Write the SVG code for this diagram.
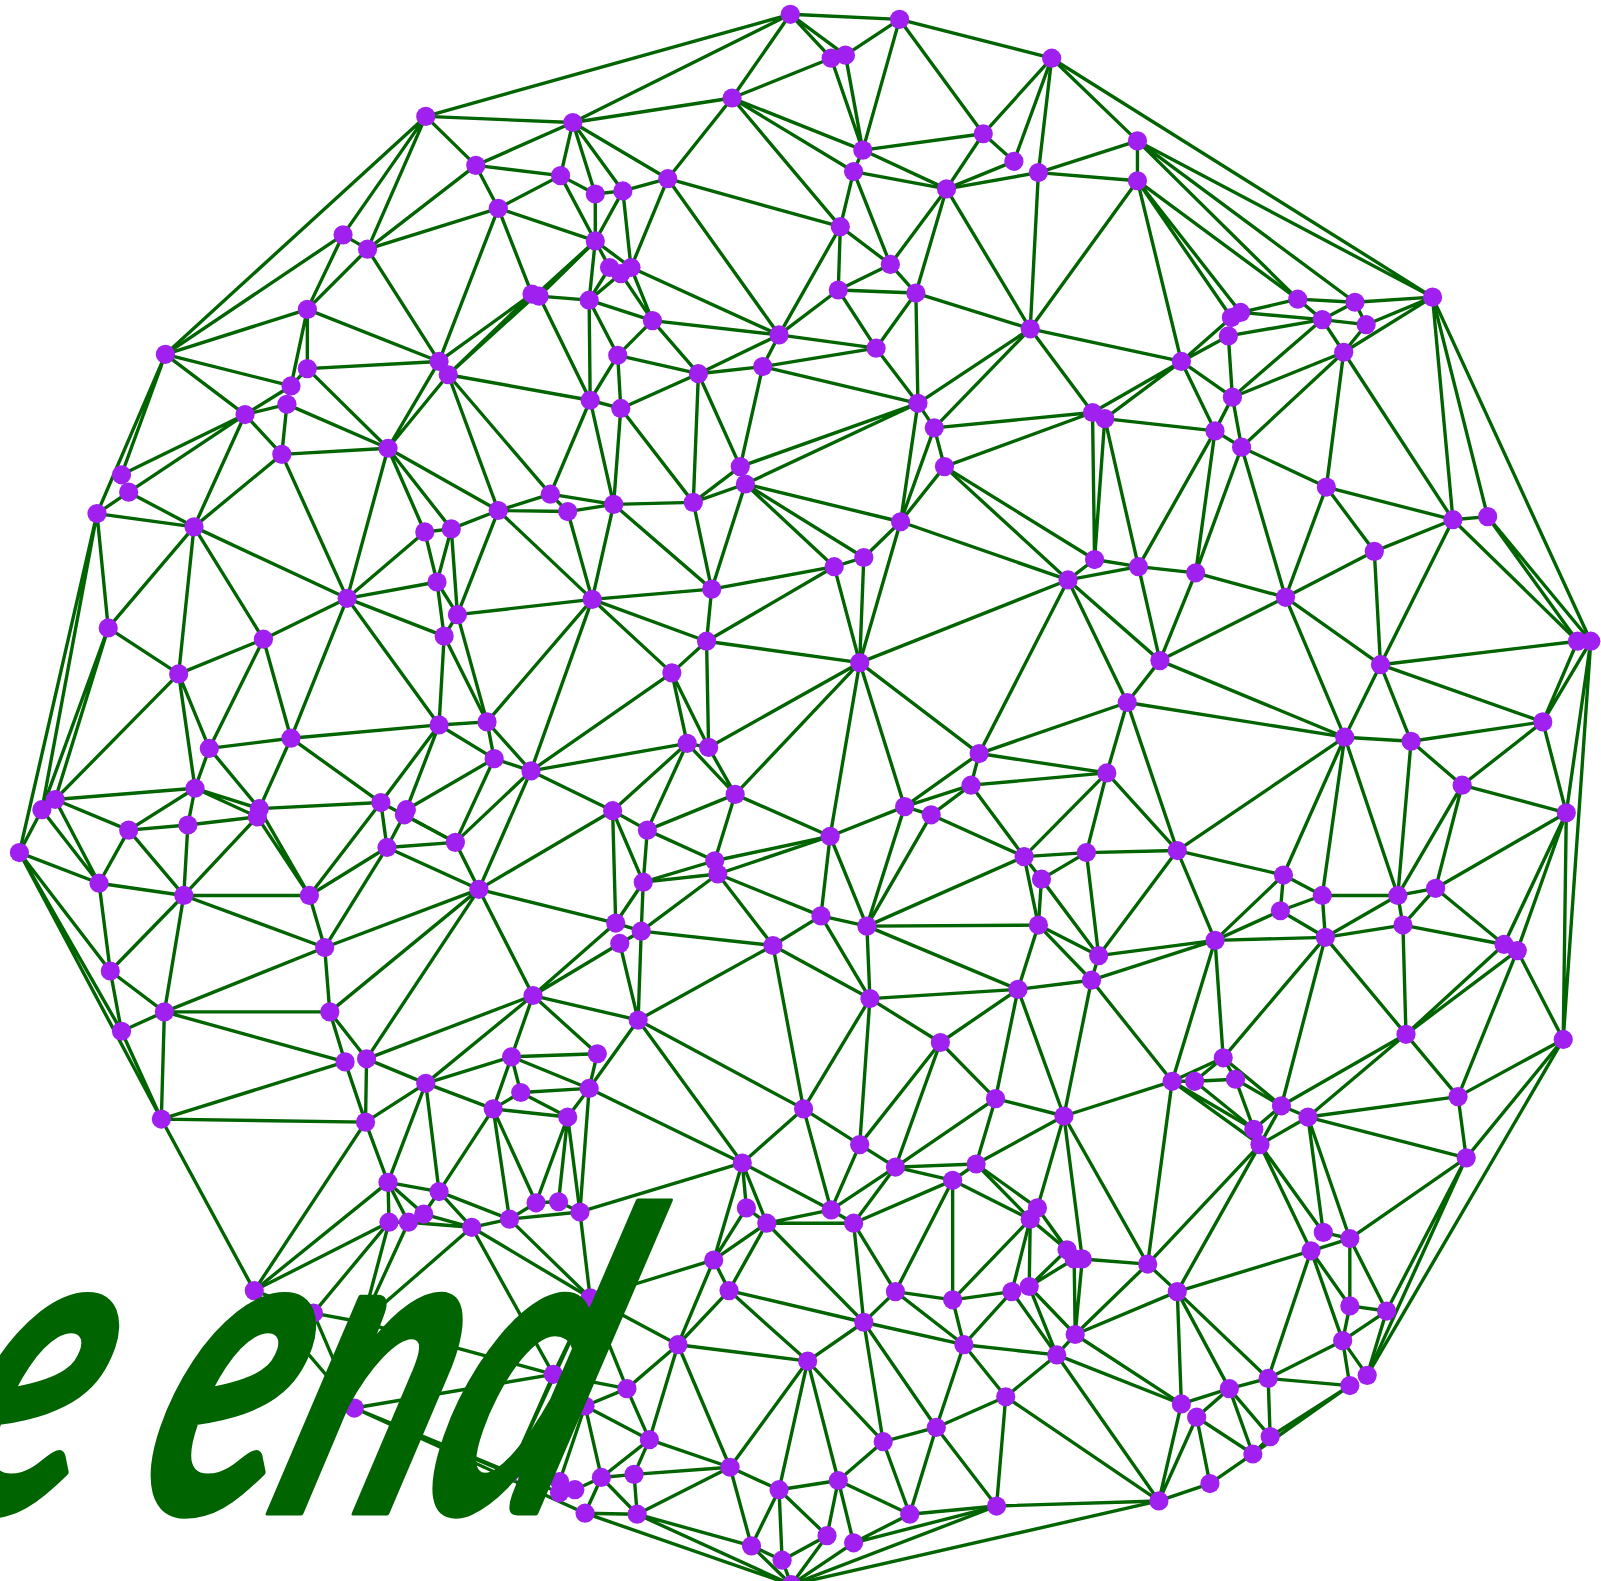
<svg xmlns="http://www.w3.org/2000/svg" width="1601" height="1581" viewBox="0 0 1601 1581">
<style>
#connectors path{fill:none;stroke:#006400;stroke-width:3.3;stroke-linejoin:round}
circle{fill:#a020f0;r:9.4px}
text{fill:#006400;stroke:#006400;stroke-width:1.2;stroke-linejoin:round;font-family:Lato,"Liberation Sans",sans-serif;font-size:100px;font-weight:700;font-style:italic}
</style>
<rect width="1601" height="1581" fill="#fff"/>
<g transform="scale(1.02105)">
<g id="connectors">
<path d="M774 14 881 19 774 14 814 57 774 14 828 54 774 14 717 96 774 14 561 120 774 14 417 114"/>
<path d="M881 19 828 54 881 19 845 147 881 19 1030 57 881 19 963 131"/>
<path d="M814 57 717 96 814 57 845 147M828 54 845 147"/>
<path d="M717 96 561 120 717 96 654 175 717 96 845 147 717 96 836 168 717 96 823 222"/>
<path d="M561 120 417 114 561 120 466 162 561 120 549 172 561 120 583 190 561 120 610 187 561 120 654 175"/>
<path d="M417 114 466 162 417 114 162 347 417 114 336 230 417 114 360 244"/>
<path d="M466 162 549 172 466 162 488 204 466 162 360 244"/>
<path d="M488 204 360 244 488 204 549 172 488 204 583 236 488 204 430 354 488 204 521 288"/>
<path d="M336 230 360 244 336 230 162 347 336 230 301 303M360 244 301 303 360 244 430 354"/>
<path d="M301 303 162 347 301 303 301 361 301 303 285 378 301 303 430 354"/>
<path d="M162 347 285 378 162 347 240 406 162 347 119 465 162 347 95 503"/>
<path d="M301 361 430 354 301 361 380 439 301 361 285 378M285 378 240 406"/>
<path d="M281 396 240 406 281 396 380 439 281 396 276 445"/>
<path d="M240 406 276 445 240 406 119 465 240 406 126 482 240 406 190 516"/>
<path d="M276 445 380 439 276 445 190 516 276 445 340 586"/>
<path d="M380 439 430 354 380 439 439 367 380 439 340 586 380 439 416 521 380 439 442 518 380 439 488 500"/>
<path d="M430 354 439 367 430 354 521 288"/>
<path d="M439 367 578 392 439 367 539 484 439 367 488 500 439 367 583 236 439 367 521 288"/>
<path d="M528 290 583 236 528 290 577 294 528 290 578 392"/>
<path d="M126 482 95 503 126 482 190 516"/>
<path d="M95 503 190 516 95 503 106 615 95 503 41 793 95 503 19 835"/>
<path d="M190 516 106 615 190 516 175 660 190 516 258 626 190 516 340 586"/>
<path d="M106 615 175 660 106 615 41 793 106 615 54 783"/>
<path d="M175 660 258 626 175 660 54 783 175 660 205 733 175 660 191 772"/>
<path d="M258 626 340 586 258 626 205 733 258 626 285 723"/>
<path d="M340 586 416 521 340 586 428 570 340 586 435 623 340 586 285 723 340 586 430 710"/>
<path d="M416 521 442 518 416 521 428 570M442 518 428 570 442 518 448 602 442 518 488 500"/>
<path d="M428 570 448 602 428 570 435 623M448 602 435 623 448 602 580 587 448 602 488 500 448 602 477 707"/>
<path d="M435 623 477 707 435 623 430 710"/>
<path d="M430 710 477 707 430 710 484 743 430 710 373 786 430 710 398 793 430 710 285 723"/>
<path d="M477 707 484 743 477 707 520 755 477 707 580 587"/>
<path d="M484 743 520 755 484 743 398 793 484 743 446 825"/>
<path d="M520 755 446 825 520 755 469 871 520 755 580 587 520 755 658 659 520 755 673 728 520 755 600 794"/>
<path d="M373 786 446 825 373 786 379 830 373 786 303 877 373 786 254 792 373 786 285 723"/>
<path d="M396 798 379 830 396 798 446 825"/>
<path d="M379 830 446 825 379 830 303 877 379 830 469 871 379 830 318 928M446 825 469 871"/>
<path d="M469 871 318 928 469 871 323 991 469 871 359 1037 469 871 600 794 469 871 603 904 469 871 522 975"/>
<path d="M285 723 205 733 285 723 254 792M205 733 191 772 205 733 254 792"/>
<path d="M191 772 54 783 191 772 126 813 191 772 184 808 191 772 254 792 191 772 252 800"/>
<path d="M54 783 126 813 54 783 97 865M41 793 97 865 41 793 19 835"/>
<path d="M126 813 184 808 126 813 97 865 126 813 180 877M184 808 252 800 184 808 180 877"/>
<path d="M252 800 180 877 252 800 303 877M254 792 303 877"/>
<path d="M180 877 303 877 180 877 318 928 180 877 97 865 180 877 108 951 180 877 161 991M303 877 318 928"/>
<path d="M19 835 97 865 19 835 108 951 19 835 119 1010 19 835 158 1096M97 865 108 951"/>
<path d="M108 951 161 991 108 951 119 1010"/>
<path d="M161 991 119 1010 161 991 323 991 161 991 318 928 161 991 158 1096 161 991 338 1040M119 1010 158 1096"/>
<path d="M318 928 323 991M323 991 338 1040 323 991 359 1037"/>
<path d="M522 975 359 1037 522 975 417 1061 522 975 501 1035 522 975 585 1032 522 975 603 904 522 975 607 924 522 975 625 999"/>
<path d="M158 1096 338 1040 158 1096 358 1099 158 1096 249 1264M338 1040 358 1099"/>
<path d="M359 1037 358 1099 359 1037 417 1061"/>
<path d="M417 1061 358 1099 417 1061 501 1035 417 1061 483 1086 417 1061 380 1158 417 1061 430 1167"/>
<path d="M501 1035 585 1032 501 1035 577 1066 501 1035 510 1070 501 1035 483 1086M585 1032 577 1066"/>
<path d="M510 1070 577 1066 510 1070 483 1086 510 1070 556 1094"/>
<path d="M483 1086 556 1094 483 1086 430 1167 483 1086 525 1178 483 1086 499 1194"/>
<path d="M556 1094 577 1066 556 1094 525 1178 556 1094 547 1177 556 1094 568 1187"/>
<path d="M577 1066 568 1187 577 1066 625 999 577 1066 727 1139"/>
<path d="M568 1187 547 1177 568 1187 499 1194 568 1187 578 1271 568 1187 727 1139"/>
<path d="M525 1178 547 1177 525 1178 499 1194"/>
<path d="M499 1194 462 1202 499 1194 578 1271 499 1194 430 1167"/>
<path d="M462 1202 430 1167 462 1202 415 1189 462 1202 400 1197 462 1202 578 1271 462 1202 542 1346 462 1202 355 1295"/>
<path d="M430 1167 380 1158 430 1167 415 1189M415 1189 380 1158"/>
<path d="M380 1158 358 1099 380 1158 381 1197 380 1158 400 1197 380 1158 249 1264"/>
<path d="M381 1197 400 1197 381 1197 249 1264 381 1197 307 1286 381 1197 355 1295M400 1197 355 1295"/>
<path d="M358 1099 249 1264M249 1264 307 1286 249 1264 347 1379M307 1286 355 1295 307 1286 347 1379"/>
<path d="M355 1295 542 1346M347 1379 542 1346 347 1379 499 1443 347 1379 548 1462 347 1379 573 1482"/>
<path d="M578 1271 699 1234 578 1271 664 1317 578 1271 542 1346 578 1271 614 1360 578 1271 573 1377 578 1271 499 1443"/>
<path d="M542 1346 614 1360 542 1346 499 1443"/>
<path d="M573 1377 614 1360 573 1377 636 1410 573 1377 589 1447 573 1377 548 1451"/>
<path d="M614 1360 636 1410 614 1360 664 1317"/>
<path d="M664 1317 636 1410 664 1317 715 1437 664 1317 791 1333 664 1317 699 1234 664 1317 714 1264"/>
<path d="M636 1410 589 1447 636 1410 621 1444 636 1410 715 1437"/>
<path d="M589 1447 621 1444 589 1447 563 1459 589 1447 573 1482 589 1447 624 1483"/>
<path d="M621 1444 715 1437 621 1444 624 1483"/>
<path d="M624 1483 715 1437 624 1483 736 1514 624 1483 775 1552 624 1483 573 1482M573 1482 775 1552"/>
<path d="M715 1437 736 1514 715 1437 763 1459 715 1437 791 1333"/>
<path d="M736 1514 775 1552 736 1514 766 1528 736 1514 763 1459"/>
<path d="M763 1459 791 1333 763 1459 766 1528 763 1459 810 1504 763 1459 821 1450"/>
<path d="M766 1528 775 1552 766 1528 810 1504M810 1504 775 1552 810 1504 821 1450"/>
<path d="M836 1511 775 1552 836 1511 821 1450 836 1511 891 1483 836 1511 976 1475"/>
<path d="M976 1475 775 1552 976 1475 891 1483 976 1475 1135 1470 976 1475 985 1368 976 1475 917 1398"/>
<path d="M1135 1470 775 1552 1135 1470 985 1368 1135 1470 1035 1327 1135 1470 1157 1375 1135 1470 1172 1388 1135 1470 1185 1453"/>
<path d="M891 1483 821 1450 891 1483 865 1412 891 1483 917 1398"/>
<path d="M821 1450 791 1333 821 1450 865 1412"/>
<path d="M791 1333 714 1264 791 1333 846 1295 791 1333 865 1412"/>
<path d="M865 1412 846 1295 865 1412 917 1398"/>
<path d="M917 1398 846 1295 917 1398 944 1317 917 1398 985 1368"/>
<path d="M846 1295 714 1264 846 1295 751 1198 846 1295 836 1198 846 1295 877 1265 846 1295 944 1317"/>
<path d="M714 1264 699 1234 714 1264 751 1198"/>
<path d="M699 1234 727 1139 699 1234 731 1183 699 1234 751 1198"/>
<path d="M727 1139 731 1183 727 1139 751 1198 727 1139 814 1185 727 1139 625 999 727 1139 787 1086M731 1183 751 1198"/>
<path d="M751 1198 814 1185 751 1198 836 1198"/>
<path d="M814 1185 836 1198 814 1185 787 1086 814 1185 842 1121 814 1185 877 1143"/>
<path d="M787 1086 842 1121 787 1086 625 999 787 1086 757 926 787 1086 852 978"/>
<path d="M842 1121 877 1143 842 1121 852 978 842 1121 921 1021"/>
<path d="M877 1143 921 1021 877 1143 975 1076 877 1143 956 1140 877 1143 933 1156 877 1143 836 1198"/>
<path d="M836 1198 877 1265 836 1198 933 1156"/>
<path d="M877 1265 933 1156 877 1265 933 1273 877 1265 944 1317"/>
<path d="M933 1156 956 1140 933 1156 933 1273 933 1156 1009 1194"/>
<path d="M933 1273 991 1265 933 1273 1009 1194 933 1273 944 1317"/>
<path d="M944 1317 991 1265 944 1317 1035 1327 944 1317 985 1368"/>
<path d="M991 1265 1008 1260 991 1265 1009 1194 991 1265 1035 1327"/>
<path d="M1008 1260 1009 1194 1008 1260 1053 1307 1008 1260 1035 1327 1008 1260 1045 1224 1008 1260 1052 1233"/>
<path d="M1009 1194 1045 1224 1009 1194 1016 1183 1009 1194 956 1140"/>
<path d="M1016 1183 956 1140 1016 1183 1045 1224 1016 1183 1052 1233 1016 1183 1042 1093"/>
<path d="M1035 1327 1053 1307 1035 1327 985 1368 1035 1327 1157 1375"/>
<path d="M1053 1307 1052 1233 1053 1307 1060 1233 1053 1307 1124 1238 1053 1307 1153 1265 1053 1307 1157 1375"/>
<path d="M1060 1233 1124 1238 1060 1233 1042 1093"/>
<path d="M956 1140 975 1076 956 1140 1042 1093"/>
<path d="M975 1076 1042 1093 975 1076 921 1021 975 1076 997 969"/>
<path d="M1042 1093 997 969 1042 1093 1069 960 1042 1093 1148 1059 1042 1093 1124 1238"/>
<path d="M1124 1238 1148 1059 1124 1238 1234 1121 1124 1238 1153 1265"/>
<path d="M1153 1265 1234 1121 1153 1265 1284 1225 1153 1265 1157 1375 1153 1265 1204 1360 1153 1265 1242 1350"/>
<path d="M1148 1059 1170 1059 1148 1059 1198 1036 1148 1059 1228 1106 1148 1059 1234 1121 1148 1059 1190 921 1148 1059 1069 960"/>
<path d="M1170 1059 1198 1036 1170 1059 1210 1057 1170 1059 1228 1106"/>
<path d="M1198 1036 1210 1057 1198 1036 1255 1083 1198 1036 1190 921 1198 1036 1298 918"/>
<path d="M1210 1057 1255 1083 1210 1057 1228 1106"/>
<path d="M1255 1083 1281 1094 1255 1083 1228 1106 1255 1083 1234 1121 1255 1083 1377 1013 1255 1083 1298 918"/>
<path d="M1281 1094 1377 1013 1281 1094 1234 1121 1281 1094 1428 1074 1281 1094 1436 1134 1281 1094 1296 1207 1281 1094 1322 1213"/>
<path d="M1428 1074 1377 1013 1428 1074 1531 1018 1428 1074 1436 1134 1428 1074 1486 931"/>
<path d="M1436 1134 1531 1018 1436 1134 1322 1213 1436 1134 1339 1347 1436 1134 1358 1284"/>
<path d="M1531 1018 1339 1347 1531 1018 1486 931 1531 1018 1534 796 1531 1018 1558 628"/>
<path d="M1234 1121 1296 1207 1234 1121 1284 1225M1296 1207 1322 1213"/>
<path d="M1322 1213 1284 1225 1322 1213 1322 1279 1322 1213 1358 1284"/>
<path d="M1284 1225 1242 1350 1284 1225 1315 1313 1284 1225 1322 1279"/>
<path d="M1322 1279 1358 1284 1322 1279 1315 1313M1358 1284 1315 1313 1358 1284 1339 1347"/>
<path d="M1315 1313 1339 1347 1315 1313 1322 1357 1315 1313 1242 1350"/>
<path d="M1322 1357 1242 1350 1322 1357 1244 1407 1322 1357 1227 1424"/>
<path d="M1242 1350 1204 1360 1242 1350 1244 1407"/>
<path d="M1204 1360 1157 1375 1204 1360 1172 1388 1204 1360 1244 1407 1204 1360 1227 1424"/>
<path d="M1172 1388 1227 1424 1172 1388 1185 1453M1227 1424 1185 1453 1227 1424 1244 1407"/>
<path d="M580 587 697 577 580 587 692 628 580 587 658 659 580 587 556 501 580 587 601 494 580 587 488 500"/>
<path d="M697 577 817 555 697 577 692 628 697 577 679 492 697 577 730 474 697 577 601 494"/>
<path d="M817 555 846 546 817 555 692 628 817 555 842 649 817 555 730 474"/>
<path d="M846 546 882 511 846 546 842 649 846 546 730 474"/>
<path d="M882 511 842 649 882 511 1046 568 882 511 730 474 882 511 899 395 882 511 915 419 882 511 925 457"/>
<path d="M1046 568 842 649 1046 568 959 738 1046 568 925 457 1046 568 1072 548 1046 568 1115 555 1046 568 1136 647 1046 568 1104 688"/>
<path d="M692 628 842 649 692 628 658 659 692 628 694 732"/>
<path d="M658 659 673 728 658 659 694 732"/>
<path d="M842 649 694 732 842 649 720 778 842 649 813 819 842 649 886 790 842 649 959 738"/>
<path d="M673 728 694 732 673 728 720 778 673 728 600 794 673 728 634 813M694 732 720 778"/>
<path d="M720 778 634 813 720 778 700 843 720 778 813 819"/>
<path d="M600 794 634 813 600 794 630 864 600 794 603 904"/>
<path d="M634 813 630 864 634 813 700 843"/>
<path d="M700 843 813 819 700 843 703 856 700 843 630 864"/>
<path d="M703 856 813 819 703 856 630 864 703 856 628 912 703 856 757 926 703 856 804 897"/>
<path d="M630 864 603 904 630 864 628 912M603 904 628 912"/>
<path d="M628 912 757 926 628 912 625 999 628 912 607 924M607 924 625 999M625 999 757 926"/>
<path d="M757 926 804 897 757 926 852 978"/>
<path d="M804 897 849 907 804 897 813 819 804 897 852 978"/>
<path d="M849 907 813 819 849 907 886 790 849 907 912 798 849 907 1003 839 849 907 1017 906 849 907 997 969 849 907 852 978"/>
<path d="M813 819 886 790M886 790 959 738 886 790 951 769 886 790 912 798"/>
<path d="M951 769 912 798 951 769 1003 839 951 769 1084 757 951 769 959 738M912 798 1003 839"/>
<path d="M959 738 1084 757 959 738 1104 688"/>
<path d="M1003 839 1064 835 1003 839 1020 861 1003 839 1017 906 1003 839 1084 757"/>
<path d="M1020 861 1064 835 1020 861 1076 936 1020 861 1017 906"/>
<path d="M1017 906 1076 936 1017 906 997 969 1017 906 1069 960"/>
<path d="M997 969 852 978 997 969 1069 960 997 969 921 1021M852 978 921 1021"/>
<path d="M1084 757 1064 835 1084 757 1153 833 1084 757 1104 688"/>
<path d="M1064 835 1153 833 1064 835 1076 936"/>
<path d="M1153 833 1104 688 1153 833 1257 857 1153 833 1190 921 1153 833 1076 936 1153 833 1317 722"/>
<path d="M1076 936 1190 921 1076 936 1069 960M1069 960 1190 921"/>
<path d="M1104 688 1136 647 1104 688 1317 722"/>
<path d="M1136 647 1115 555 1136 647 1171 561 1136 647 1259 585 1136 647 1317 722"/>
<path d="M1115 555 1072 548 1115 555 1171 561 1115 555 1082 410 1115 555 1190 422"/>
<path d="M1171 561 1190 422 1171 561 1216 438 1171 561 1259 585"/>
<path d="M1072 548 925 457 1072 548 1070 404 1072 548 1082 410"/>
<path d="M1259 585 1216 438 1259 585 1299 477 1259 585 1346 540 1259 585 1352 651 1259 585 1317 722"/>
<path d="M1346 540 1299 477 1346 540 1423 509 1346 540 1352 651"/>
<path d="M1423 509 1299 477 1423 509 1316 345 1423 509 1352 651 1423 509 1545 628 1423 509 1403 291 1423 509 1457 506"/>
<path d="M1457 506 1403 291 1457 506 1545 628 1457 506 1558 628"/>
<path d="M1403 291 1558 628 1403 291 1327 296 1403 291 1338 318 1403 291 1316 345 1403 291 1030 57 1403 291 1114 138"/>
<path d="M1352 651 1317 722 1352 651 1511 707 1352 651 1545 628 1352 651 1382 726"/>
<path d="M1317 722 1382 726 1317 722 1257 857 1317 722 1295 877 1317 722 1369 877"/>
<path d="M1382 726 1511 707 1382 726 1432 769 1382 726 1369 877"/>
<path d="M1511 707 1545 628 1511 707 1558 628 1511 707 1432 769 1511 707 1534 796"/>
<path d="M1432 769 1534 796 1432 769 1369 877 1432 769 1406 870"/>
<path d="M1534 796 1406 870 1534 796 1558 628 1534 796 1473 925 1534 796 1486 931"/>
<path d="M1257 857 1254 892 1257 857 1295 877 1257 857 1190 921"/>
<path d="M1254 892 1295 877 1254 892 1298 918 1254 892 1190 921"/>
<path d="M1295 877 1369 877 1295 877 1298 918"/>
<path d="M1369 877 1406 870 1369 877 1374 906 1369 877 1298 918"/>
<path d="M1406 870 1374 906 1406 870 1473 925"/>
<path d="M1298 918 1374 906 1298 918 1190 921 1298 918 1377 1013"/>
<path d="M1374 906 1473 925 1374 906 1377 1013M1473 925 1377 1013M1486 931 1377 1013"/>
<path d="M549 172 583 190 549 172 583 236M583 190 610 187 583 190 583 236"/>
<path d="M610 187 654 175 610 187 583 236 610 187 618 262"/>
<path d="M654 175 618 262 654 175 823 222 654 175 763 328"/>
<path d="M583 236 577 294 583 236 597 262 583 236 618 262 583 236 528 290"/>
<path d="M597 262 577 294M608 268 577 294 608 268 639 314M618 262 639 314 618 262 763 328"/>
<path d="M577 294 639 314 577 294 605 348 577 294 578 392"/>
<path d="M639 314 763 328 639 314 605 348 639 314 684 366"/>
<path d="M605 348 684 366 605 348 578 392 605 348 608 400"/>
<path d="M684 366 763 328 684 366 747 359 684 366 608 400 684 366 725 457 684 366 679 492"/>
<path d="M763 328 747 359 763 328 858 341 763 328 821 284 763 328 823 222"/>
<path d="M747 359 858 341 747 359 899 395 747 359 725 457"/>
<path d="M858 341 899 395 858 341 821 284 858 341 897 287"/>
<path d="M899 395 725 457 899 395 730 474 899 395 897 287 899 395 1009 322 899 395 915 419"/>
<path d="M915 419 1009 322 915 419 925 457 915 419 1070 404M925 457 1070 404"/>
<path d="M821 284 897 287 821 284 872 259 821 284 823 222M823 222 836 168 823 222 872 259"/>
<path d="M836 168 845 147 836 168 927 185 836 168 872 259"/>
<path d="M845 147 963 131 845 147 927 185"/>
<path d="M963 131 1030 57 963 131 993 158 963 131 927 185M993 158 1030 57 993 158 927 185"/>
<path d="M1017 169 1030 57 1017 169 927 185 1017 169 1114 177 1017 169 1114 138 1017 169 1009 322"/>
<path d="M927 185 872 259 927 185 897 287 927 185 1009 322M872 259 897 287M897 287 1009 322"/>
<path d="M1009 322 1114 177 1009 322 1157 354 1009 322 1070 404"/>
<path d="M1030 57 1114 138M1114 138 1114 177 1114 138 1271 293 1114 138 1327 296"/>
<path d="M1114 177 1157 354 1114 177 1206 311 1114 177 1215 306 1114 177 1271 293"/>
<path d="M1157 354 1206 311 1157 354 1203 329 1157 354 1207 389 1157 354 1190 422 1157 354 1070 404 1157 354 1082 410"/>
<path d="M1215 306 1271 293 1215 306 1295 313M1203 329 1295 313 1203 329 1207 389"/>
<path d="M1271 293 1327 296 1271 293 1295 313M1327 296 1295 313 1327 296 1338 318"/>
<path d="M1295 313 1338 318 1295 313 1316 345 1295 313 1207 389M1338 318 1316 345"/>
<path d="M1316 345 1207 389 1316 345 1216 438 1316 345 1299 477"/>
<path d="M1207 389 1190 422 1207 389 1216 438M1190 422 1082 410 1190 422 1216 438M1216 438 1299 477"/>
<path d="M578 392 608 400 578 392 539 484 578 392 601 494M608 400 679 492 608 400 601 494"/>
<path d="M539 484 556 501 539 484 488 500 539 484 601 494M556 501 601 494 556 501 488 500"/>
<path d="M601 494 679 492M679 492 730 474 679 492 725 457M725 457 730 474"/>
</g>
<g id="n1"><circle cx="774" cy="14"/></g><g id="n2"><circle cx="881" cy="19"/></g><g id="n3"><circle cx="1030" cy="57"/></g><g id="n4"><circle cx="814" cy="57"/></g><g id="n5"><circle cx="828" cy="54"/></g><g id="n6"><circle cx="717" cy="96"/></g><g id="n7"><circle cx="561" cy="120"/></g><g id="n8"><circle cx="417" cy="114"/></g><g id="n9"><circle cx="466" cy="162"/></g><g id="n10"><circle cx="549" cy="172"/></g>
<g id="n11"><circle cx="583" cy="190"/></g><g id="n12"><circle cx="610" cy="187"/></g><g id="n13"><circle cx="654" cy="175"/></g><g id="n14"><circle cx="488" cy="204"/></g><g id="n15"><circle cx="583" cy="236"/></g><g id="n16"><circle cx="336" cy="230"/></g><g id="n17"><circle cx="360" cy="244"/></g><g id="n18"><circle cx="301" cy="303"/></g><g id="n19"><circle cx="162" cy="347"/></g><g id="n20"><circle cx="597" cy="262"/></g>
<g id="n21"><circle cx="608" cy="268"/></g><g id="n22"><circle cx="618" cy="262"/></g><g id="n23"><circle cx="521" cy="288"/></g><g id="n24"><circle cx="528" cy="290"/></g><g id="n25"><circle cx="577" cy="294"/></g><g id="n26"><circle cx="639" cy="314"/></g><g id="n27"><circle cx="605" cy="348"/></g><g id="n28"><circle cx="430" cy="354"/></g><g id="n29"><circle cx="439" cy="367"/></g><g id="n30"><circle cx="301" cy="361"/></g>
<g id="n31"><circle cx="285" cy="378"/></g><g id="n32"><circle cx="281" cy="396"/></g><g id="n33"><circle cx="240" cy="406"/></g><g id="n34"><circle cx="276" cy="445"/></g><g id="n35"><circle cx="380" cy="439"/></g><g id="n36"><circle cx="119" cy="465"/></g><g id="n37"><circle cx="126" cy="482"/></g><g id="n38"><circle cx="95" cy="503"/></g><g id="n39"><circle cx="190" cy="516"/></g><g id="n40"><circle cx="578" cy="392"/></g>
<g id="n41"><circle cx="608" cy="400"/></g><g id="n42"><circle cx="684" cy="366"/></g><g id="n43"><circle cx="747" cy="359"/></g><g id="n44"><circle cx="763" cy="328"/></g><g id="n45"><circle cx="858" cy="341"/></g><g id="n46"><circle cx="899" cy="395"/></g><g id="n47"><circle cx="821" cy="284"/></g><g id="n48"><circle cx="897" cy="287"/></g><g id="n49"><circle cx="872" cy="259"/></g><g id="n50"><circle cx="823" cy="222"/></g>
<g id="n51"><circle cx="836" cy="168"/></g><g id="n52"><circle cx="845" cy="147"/></g><g id="n53"><circle cx="963" cy="131"/></g><g id="n54"><circle cx="993" cy="158"/></g><g id="n55"><circle cx="1017" cy="169"/></g><g id="n56"><circle cx="927" cy="185"/></g><g id="n57"><circle cx="1114" cy="138"/></g><g id="n58"><circle cx="1114" cy="177"/></g><g id="n59"><circle cx="1009" cy="322"/></g><g id="n60"><circle cx="1157" cy="354"/></g>
<g id="n61"><circle cx="1207" cy="389"/></g><g id="n62"><circle cx="1203" cy="329"/></g><g id="n63"><circle cx="1206" cy="311"/></g><g id="n64"><circle cx="1215" cy="306"/></g><g id="n65"><circle cx="1271" cy="293"/></g><g id="n66"><circle cx="1295" cy="313"/></g><g id="n67"><circle cx="1327" cy="296"/></g><g id="n68"><circle cx="1338" cy="318"/></g><g id="n69"><circle cx="1316" cy="345"/></g><g id="n70"><circle cx="1403" cy="291"/></g>
<g id="n71"><circle cx="1190" cy="422"/></g><g id="n72"><circle cx="1216" cy="438"/></g><g id="n73"><circle cx="1082" cy="410"/></g><g id="n74"><circle cx="1070" cy="404"/></g><g id="n75"><circle cx="915" cy="419"/></g><g id="n76"><circle cx="925" cy="457"/></g><g id="n77"><circle cx="725" cy="457"/></g><g id="n78"><circle cx="730" cy="474"/></g><g id="n79"><circle cx="679" cy="492"/></g><g id="n80"><circle cx="601" cy="494"/></g>
<g id="n81"><circle cx="556" cy="501"/></g><g id="n82"><circle cx="539" cy="484"/></g><g id="n83"><circle cx="488" cy="500"/></g><g id="n84"><circle cx="416" cy="521"/></g><g id="n85"><circle cx="442" cy="518"/></g><g id="n86"><circle cx="428" cy="570"/></g><g id="n87"><circle cx="448" cy="602"/></g><g id="n88"><circle cx="435" cy="623"/></g><g id="n89"><circle cx="340" cy="586"/></g><g id="n90"><circle cx="258" cy="626"/></g>
<g id="n91"><circle cx="175" cy="660"/></g><g id="n92"><circle cx="106" cy="615"/></g><g id="n93"><circle cx="882" cy="511"/></g><g id="n94"><circle cx="846" cy="546"/></g><g id="n95"><circle cx="817" cy="555"/></g><g id="n96"><circle cx="1072" cy="548"/></g><g id="n97"><circle cx="1115" cy="555"/></g><g id="n98"><circle cx="1171" cy="561"/></g><g id="n99"><circle cx="1046" cy="568"/></g><g id="n100"><circle cx="1299" cy="477"/></g>
<g id="n101"><circle cx="1346" cy="540"/></g><g id="n102"><circle cx="1423" cy="509"/></g><g id="n103"><circle cx="1457" cy="506"/></g><g id="n104"><circle cx="1259" cy="585"/></g><g id="n105"><circle cx="1136" cy="647"/></g><g id="n106"><circle cx="1352" cy="651"/></g><g id="n107"><circle cx="1545" cy="628"/></g><g id="n108"><circle cx="1558" cy="628"/></g><g id="n109"><circle cx="697" cy="577"/></g><g id="n110"><circle cx="580" cy="587"/></g>
<g id="n111"><circle cx="692" cy="628"/></g><g id="n112"><circle cx="658" cy="659"/></g><g id="n113"><circle cx="842" cy="649"/></g><g id="n114"><circle cx="1104" cy="688"/></g><g id="n115"><circle cx="1317" cy="722"/></g><g id="n116"><circle cx="1382" cy="726"/></g><g id="n117"><circle cx="1511" cy="707"/></g><g id="n118"><circle cx="1432" cy="769"/></g><g id="n119"><circle cx="1534" cy="796"/></g><g id="n120"><circle cx="477" cy="707"/></g>
<g id="n121"><circle cx="430" cy="710"/></g><g id="n122"><circle cx="285" cy="723"/></g><g id="n123"><circle cx="205" cy="733"/></g><g id="n124"><circle cx="191" cy="772"/></g><g id="n125"><circle cx="54" cy="783"/></g><g id="n126"><circle cx="41" cy="793"/></g><g id="n127"><circle cx="19" cy="835"/></g><g id="n128"><circle cx="126" cy="813"/></g><g id="n129"><circle cx="184" cy="808"/></g><g id="n130"><circle cx="254" cy="792"/></g>
<g id="n131"><circle cx="252" cy="800"/></g><g id="n132"><circle cx="373" cy="786"/></g><g id="n133"><circle cx="398" cy="793"/></g><g id="n134"><circle cx="396" cy="798"/></g><g id="n135"><circle cx="446" cy="825"/></g><g id="n136"><circle cx="379" cy="830"/></g><g id="n137"><circle cx="484" cy="743"/></g><g id="n138"><circle cx="520" cy="755"/></g><g id="n139"><circle cx="673" cy="728"/></g><g id="n140"><circle cx="694" cy="732"/></g>
<g id="n141"><circle cx="720" cy="778"/></g><g id="n142"><circle cx="600" cy="794"/></g><g id="n143"><circle cx="634" cy="813"/></g><g id="n144"><circle cx="959" cy="738"/></g><g id="n145"><circle cx="1084" cy="757"/></g><g id="n146"><circle cx="951" cy="769"/></g><g id="n147"><circle cx="886" cy="790"/></g><g id="n148"><circle cx="912" cy="798"/></g><g id="n149"><circle cx="813" cy="819"/></g><g id="n150"><circle cx="700" cy="843"/></g>
<g id="n151"><circle cx="703" cy="856"/></g><g id="n152"><circle cx="630" cy="864"/></g><g id="n153"><circle cx="1003" cy="839"/></g><g id="n154"><circle cx="1064" cy="835"/></g><g id="n155"><circle cx="1153" cy="833"/></g><g id="n156"><circle cx="1020" cy="861"/></g><g id="n157"><circle cx="1257" cy="857"/></g><g id="n158"><circle cx="1254" cy="892"/></g><g id="n159"><circle cx="1295" cy="877"/></g><g id="n160"><circle cx="1369" cy="877"/></g>
<g id="n161"><circle cx="1406" cy="870"/></g><g id="n162"><circle cx="97" cy="865"/></g><g id="n163"><circle cx="180" cy="877"/></g><g id="n164"><circle cx="303" cy="877"/></g><g id="n165"><circle cx="469" cy="871"/></g><g id="n166"><circle cx="804" cy="897"/></g><g id="n167"><circle cx="849" cy="907"/></g><g id="n168"><circle cx="1017" cy="906"/></g><g id="n169"><circle cx="1076" cy="936"/></g><g id="n170"><circle cx="603" cy="904"/></g>
<g id="n171"><circle cx="628" cy="912"/></g><g id="n172"><circle cx="607" cy="924"/></g><g id="n173"><circle cx="757" cy="926"/></g><g id="n174"><circle cx="1190" cy="921"/></g><g id="n175"><circle cx="1298" cy="918"/></g><g id="n176"><circle cx="1374" cy="906"/></g><g id="n177"><circle cx="1473" cy="925"/></g><g id="n178"><circle cx="1486" cy="931"/></g><g id="n179"><circle cx="108" cy="951"/></g><g id="n180"><circle cx="318" cy="928"/></g>
<g id="n181"><circle cx="161" cy="991"/></g><g id="n182"><circle cx="323" cy="991"/></g><g id="n183"><circle cx="119" cy="1010"/></g><g id="n184"><circle cx="522" cy="975"/></g><g id="n185"><circle cx="625" cy="999"/></g><g id="n186"><circle cx="852" cy="978"/></g><g id="n187"><circle cx="997" cy="969"/></g><g id="n188"><circle cx="1069" cy="960"/></g><g id="n189"><circle cx="1377" cy="1013"/></g><g id="n190"><circle cx="1531" cy="1018"/></g>
<g id="n191"><circle cx="921" cy="1021"/></g><g id="n192"><circle cx="501" cy="1035"/></g><g id="n193"><circle cx="585" cy="1032"/></g><g id="n194"><circle cx="338" cy="1040"/></g><g id="n195"><circle cx="359" cy="1037"/></g><g id="n196"><circle cx="417" cy="1061"/></g><g id="n197"><circle cx="510" cy="1070"/></g><g id="n198"><circle cx="577" cy="1066"/></g><g id="n199"><circle cx="483" cy="1086"/></g><g id="n200"><circle cx="556" cy="1094"/></g>
<g id="n201"><circle cx="158" cy="1096"/></g><g id="n202"><circle cx="358" cy="1099"/></g><g id="n203"><circle cx="787" cy="1086"/></g><g id="n204"><circle cx="975" cy="1076"/></g><g id="n205"><circle cx="1042" cy="1093"/></g><g id="n206"><circle cx="1148" cy="1059"/></g><g id="n207"><circle cx="1170" cy="1059"/></g><g id="n208"><circle cx="1198" cy="1036"/></g><g id="n209"><circle cx="1210" cy="1057"/></g><g id="n210"><circle cx="1255" cy="1083"/></g>
<g id="n211"><circle cx="1281" cy="1094"/></g><g id="n212"><circle cx="1428" cy="1074"/></g><g id="n213"><circle cx="1228" cy="1106"/></g><g id="n214"><circle cx="1234" cy="1121"/></g><g id="n215"><circle cx="842" cy="1121"/></g><g id="n216"><circle cx="1436" cy="1134"/></g><g id="n217"><circle cx="727" cy="1139"/></g><g id="n218"><circle cx="877" cy="1143"/></g><g id="n219"><circle cx="956" cy="1140"/></g><g id="n220"><circle cx="933" cy="1156"/></g>
<g id="n221"><circle cx="380" cy="1158"/></g><g id="n222"><circle cx="430" cy="1167"/></g><g id="n223"><circle cx="525" cy="1178"/></g><g id="n224"><circle cx="547" cy="1177"/></g><g id="n225"><circle cx="568" cy="1187"/></g><g id="n226"><circle cx="415" cy="1189"/></g><g id="n227"><circle cx="381" cy="1197"/></g><g id="n228"><circle cx="400" cy="1197"/></g><g id="n229"><circle cx="462" cy="1202"/></g><g id="n230"><circle cx="499" cy="1194"/></g>
<g id="n231"><circle cx="731" cy="1183"/></g><g id="n232"><circle cx="751" cy="1198"/></g><g id="n233"><circle cx="814" cy="1185"/></g><g id="n234"><circle cx="836" cy="1198"/></g><g id="n235"><circle cx="1016" cy="1183"/></g><g id="n236"><circle cx="1009" cy="1194"/></g><g id="n237"><circle cx="1296" cy="1207"/></g><g id="n238"><circle cx="1322" cy="1213"/></g><g id="n239"><circle cx="1284" cy="1225"/></g><g id="n240"><circle cx="1045" cy="1224"/></g>
<g id="n241"><circle cx="1052" cy="1233"/></g><g id="n242"><circle cx="1060" cy="1233"/></g><g id="n243"><circle cx="1124" cy="1238"/></g><g id="n244"><circle cx="699" cy="1234"/></g><g id="n245"><circle cx="249" cy="1264"/></g><g id="n246"><circle cx="714" cy="1264"/></g><g id="n247"><circle cx="877" cy="1265"/></g><g id="n248"><circle cx="933" cy="1273"/></g><g id="n249"><circle cx="991" cy="1265"/></g><g id="n250"><circle cx="1008" cy="1260"/></g>
<g id="n251"><circle cx="1153" cy="1265"/></g><g id="n252"><circle cx="578" cy="1271"/></g><g id="n253"><circle cx="307" cy="1286"/></g><g id="n254"><circle cx="355" cy="1295"/></g><g id="n255"><circle cx="846" cy="1295"/></g><g id="n256"><circle cx="1322" cy="1279"/></g><g id="n257"><circle cx="1358" cy="1284"/></g><g id="n258"><circle cx="1053" cy="1307"/></g><g id="n259"><circle cx="664" cy="1317"/></g><g id="n260"><circle cx="944" cy="1317"/></g>
<g id="n261"><circle cx="1035" cy="1327"/></g><g id="n262"><circle cx="1315" cy="1313"/></g><g id="n263"><circle cx="791" cy="1333"/></g><g id="n264"><circle cx="542" cy="1346"/></g><g id="n265"><circle cx="614" cy="1360"/></g><g id="n266"><circle cx="573" cy="1377"/></g><g id="n267"><circle cx="347" cy="1379"/></g><g id="n268"><circle cx="636" cy="1410"/></g><g id="n269"><circle cx="499" cy="1443"/></g><g id="n270"><circle cx="589" cy="1447"/></g>
<g id="n271"><circle cx="621" cy="1444"/></g><g id="n272"><circle cx="548" cy="1451"/></g><g id="n273"><circle cx="548" cy="1462"/></g><g id="n274"><circle cx="563" cy="1459"/></g><g id="n275"><circle cx="573" cy="1482"/></g><g id="n276"><circle cx="624" cy="1483"/></g><g id="n277"><circle cx="715" cy="1437"/></g><g id="n278"><circle cx="763" cy="1459"/></g><g id="n279"><circle cx="821" cy="1450"/></g><g id="n280"><circle cx="865" cy="1412"/></g>
<g id="n281"><circle cx="917" cy="1398"/></g><g id="n282"><circle cx="985" cy="1368"/></g><g id="n283"><circle cx="891" cy="1483"/></g><g id="n284"><circle cx="976" cy="1475"/></g><g id="n285"><circle cx="1135" cy="1470"/></g><g id="n286"><circle cx="810" cy="1504"/></g><g id="n287"><circle cx="836" cy="1511"/></g><g id="n288"><circle cx="736" cy="1514"/></g><g id="n289"><circle cx="766" cy="1528"/></g><g id="n290"><circle cx="775" cy="1552"/></g>
<g id="n291"><circle cx="1157" cy="1375"/></g><g id="n292"><circle cx="1172" cy="1388"/></g><g id="n293"><circle cx="1204" cy="1360"/></g><g id="n294"><circle cx="1242" cy="1350"/></g><g id="n295"><circle cx="1322" cy="1357"/></g><g id="n296"><circle cx="1339" cy="1347"/></g><g id="n297"><circle cx="1244" cy="1407"/></g><g id="n298"><circle cx="1227" cy="1424"/></g><g id="n299"><circle cx="1185" cy="1453"/></g>
</g>
<text transform="matrix(2.79 0 -1.46 4.2 -71 1513)" xml:space="preserve">e end</text>
</svg>
